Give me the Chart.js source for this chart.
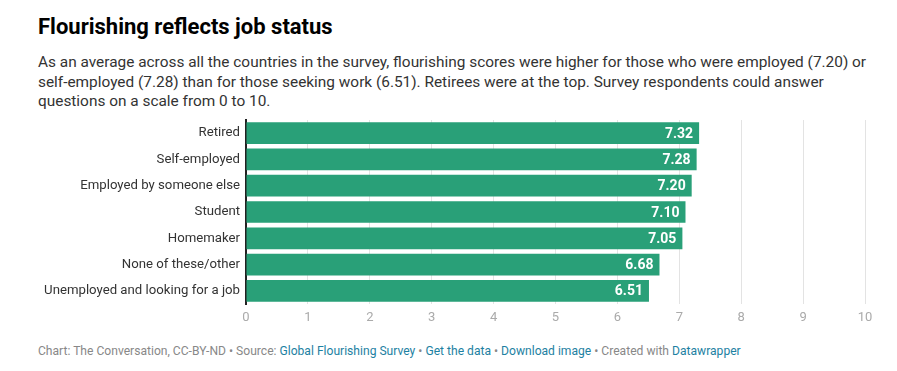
<!DOCTYPE html>
<html>
<head>
<meta charset="utf-8">
<script src="https://cdn.jsdelivr.net/npm/chart.js@4"></script>
<style>
  html, body { margin: 0; padding: 0; background: #fff; }
  body { width: 897px; height: 371px; position: relative; overflow: hidden; font-family: Roboto, sans-serif; }
  h1 { position: absolute; left: 38px; top: 13px; margin: 0; font-size: 22px; font-weight: 700; color: #000; line-height: 28px; }
  .sub { position: absolute; left: 38px; top: 53px; margin: 0; font-size: 15.4px; color: #333; line-height: 19.5px; white-space: nowrap; }
  .chart { position: absolute; left: 0; top: 100px; width: 897px; height: 230px; }
  .foot { position: absolute; left: 38px; top: 344px; font-size: 12.1px; color: #888; white-space: nowrap; }
  .foot a { color: #1d81a2; text-decoration: none; }
</style>
</head>
<body>
<h1>Flourishing reflects job status</h1>
<p class="sub">As an average across all the countries in the survey, flourishing scores were higher for those who were employed (7.20) or<br>self-employed (7.28) than for those seeking work (6.51). Retirees were at the top. Survey respondents could answer<br>questions on a scale from 0 to 10.</p>
<div class="chart"><canvas id="chart"></canvas></div>
<div class="foot">Chart: The Conversation, CC-BY-ND • Source: <a>Global Flourishing Survey</a> • <a>Get the data</a> • <a>Download image</a> • Created with <a>Datawrapper</a></div>
<script>
const categories = ["Retired", "Self-employed", "Employed by someone else", "Student", "Homemaker", "None of these/other", "Unemployed and looking for a job"];
const scores = [7.32, 7.28, 7.20, 7.10, 7.05, 6.68, 6.51];
const xTicks = [0, 1, 2, 3, 4, 5, 6, 7, 8, 9, 10];

// white value labels drawn inside the bar ends
const valueLabels = {
  id: "valueLabels",
  afterDatasetsDraw(chart) {
    const ctx = chart.ctx;
    const meta = chart.getDatasetMeta(0);
    ctx.save();
    ctx.font = "bold 14px Roboto";
    ctx.fillStyle = "#fff";
    ctx.textAlign = "right";
    ctx.textBaseline = "middle";
    meta.data.forEach((bar, i) => {
      ctx.fillText(scores[i].toFixed(2), bar.x - 6, bar.y + 1);
    });
    ctx.restore();
  }
};

new Chart(document.getElementById("chart"), {
  type: "bar",
  data: {
    labels: categories,
    datasets: [{
      data: scores,
      backgroundColor: "#29a078",
      barPercentage: 1,
      categoryPercentage: 0.825
    }]
  },
  options: {
    indexAxis: "y",
    responsive: true,
    maintainAspectRatio: false,
    animation: false,
    layout: { padding: { top: 20, right: 32, bottom: 0, left: 0 } },
    plugins: { legend: { display: false }, tooltip: { enabled: false } },
    scales: {
      x: {
        min: 0,
        max: 10,
        afterBuildTicks: (scale) => { scale.ticks = xTicks.map(v => ({ value: v })); },
        afterFit: (scale) => { scale.height = 26; },
        border: { display: false },
        grid: {
          drawTicks: false,
          color: (c) => c.tick && c.tick.value === 0 ? "rgba(0,0,0,0)" : "#e3e3e3",
          lineWidth: 1
        },
        ticks: { color: "#aaa", font: { family: "Roboto", size: 13 }, padding: 6 }
      },
      y: {
        afterFit: (scale) => { scale.width = 246; },
        border: { color: "#222", width: 2 },
        grid: { display: false, drawTicks: false },
        ticks: { color: "#333", font: { family: "Roboto", size: 13.2 }, padding: 6 }
      }
    }
  },
  plugins: [valueLabels]
});
</script>
</body>
</html>
